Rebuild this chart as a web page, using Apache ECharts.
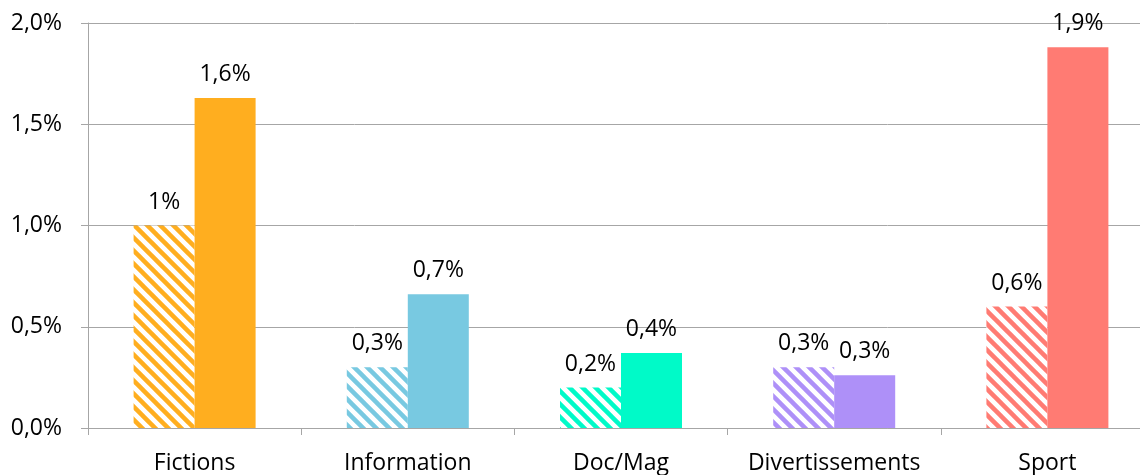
<!DOCTYPE html>
<html>
<head>
<meta charset="utf-8">
<script src="https://cdn.jsdelivr.net/npm/echarts@6/dist/echarts.min.js"></script>
<style>
  html, body { margin: 0; padding: 0; background: #fff; overflow: hidden; width: 1140px; height: 475px; }
  #chart { width: 1155px; height: 475px; }
</style>
</head>
<body>
<div id="chart"></div>
<script>
// Genres and their colours
const categories = ['Fictions', 'Information', 'Doc/Mag', 'Divertissements', 'Sport'];
const colors = ['#FFAE1F', '#78C9E1', '#00FAC8', '#AE90F8', '#FF7B73'];

// Shares in percent: hatched series first, then solid series
const hatchedValues = [1.0, 0.3, 0.2, 0.3, 0.6];
const solidValues = [1.63, 0.66, 0.37, 0.26, 1.88];

const yTicks = { min: 0, max: 2, interval: 0.5 };

const fontFamily = '"Open Sans", "Liberation Sans", sans-serif';

// Diagonal stripe tile (top-left to bottom-right)
function stripePattern(color) {
  const s = 13;
  const c = document.createElement('canvas');
  c.width = s; c.height = s;
  const ctx = c.getContext('2d');
  ctx.fillStyle = '#fff';
  ctx.fillRect(0, 0, s, s);
  ctx.strokeStyle = color;
  ctx.lineWidth = 4.5;
  ctx.lineCap = 'square';
  for (const off of [-s, 0, s]) {
    ctx.beginPath();
    ctx.moveTo(off - 2, -2);
    ctx.lineTo(off + s + 2, s + 2);
    ctx.stroke();
  }
  return { image: c, repeat: 'repeat' };
}

const comma = v => String(v).replace('.', ',');

const chart = echarts.init(document.getElementById('chart'), null, { renderer: 'canvas' });

chart.setOption({
  animation: false,
  backgroundColor: '#fff',
  grid: { left: 88, top: 23, right: 1, height: 405, containLabel: false },
  xAxis: {
    type: 'category',
    data: categories,
    axisLine: { lineStyle: { color: '#A6A6A6', width: 1 } },
    axisTick: { show: true, interval: 0, length: 7, inside: false, lineStyle: { color: '#A6A6A6' } },
    axisLabel: { interval: 0, color: '#000', fontSize: 23, fontFamily, margin: 24 }
  },
  yAxis: {
    type: 'value',
    min: yTicks.min, max: yTicks.max, interval: yTicks.interval,
    axisLine: { show: true, lineStyle: { color: '#A6A6A6', width: 1 } },
    axisTick: { show: true, length: 7, lineStyle: { color: '#A6A6A6' } },
    splitLine: { lineStyle: { color: '#A6A6A6', width: 1 } },
    axisLabel: {
      color: '#000', fontSize: 23, fontFamily, margin: 26,
      formatter: v => v.toFixed(1).replace('.', ',') + '%'
    }
  },
  series: [
    {
      type: 'bar',
      barWidth: 61,
      barGap: '0%',
      data: hatchedValues.map((v, i) => ({
        value: v,
        itemStyle: { color: stripePattern(colors[i]) }
      })),
      label: {
        show: true, position: 'top', distance: 12,
        color: '#000', fontSize: 23, fontFamily,
        formatter: p => comma(p.value) + '%'
      }
    },
    {
      type: 'bar',
      barWidth: 61,
      barGap: '0%',
      data: solidValues.map((v, i) => ({
        value: v,
        itemStyle: { color: colors[i] }
      })),
      label: {
        show: true, position: 'top', distance: 12,
        color: '#000', fontSize: 23, fontFamily,
        formatter: p => p.value.toFixed(1).replace('.', ',') + '%'
      }
    }
  ]
});
</script>
</body>
</html>
